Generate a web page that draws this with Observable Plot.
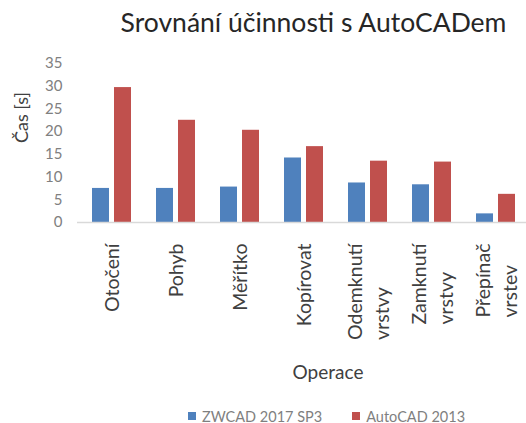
<!DOCTYPE html>
<html><head><meta charset="utf-8">
<script src="https://cdn.jsdelivr.net/npm/d3@7"></script>
<script src="https://cdn.jsdelivr.net/npm/@observablehq/plot@0.6"></script>
<style>
body{margin:0;background:#fff;font-family:Lato,sans-serif;}
#wrap{width:526px;height:423px;position:relative;overflow:hidden;background:#fff;}
#title{height:45px;line-height:44px;padding-left:101px;text-align:center;font-size:26.5px;color:#262626;white-space:nowrap;}
#chart svg{display:block;}
#legend{position:absolute;top:404px;left:188px;height:24px;display:flex;align-items:center;font-size:14.5px;color:#7f7f7f;white-space:nowrap;}
#legend .item{display:flex;align-items:center;margin-right:30px;}
#legend .sw{width:8px;height:8px;margin-right:6px;}
</style></head><body>
<div id="wrap">
  <div id="title">Srovnání účinnosti s AutoCADem</div>
  <div id="chart"></div>
  <div id="legend"></div>
</div>
<script>
const categories = ["Otočení", "Pohyb", "Měřítko", "Kopírovat", "Odemknutí vrstvy", "Zamknutí vrstvy", "Přepínač vrstev"];
const tickLabels = ["Otočení", "Pohyb", "Měřítko", "Kopírovat", "Odemknutí\nvrstvy", "Zamknutí\nvrstvy", "Přepínač\nvrstev"];
const seriesNames = ["ZWCAD 2017 SP3", "AutoCAD 2013"];
const zwcad = [7.5, 7.5, 7.8, 14.2, 8.7, 8.3, 1.9];
const autocad = [29.7, 22.5, 20.3, 16.7, 13.5, 13.3, 6.2];
const yTicks = [0, 5, 10, 15, 20, 25, 30, 35];
const colors = ["#4F81BD", "#C0504D"];

const table = categories.map((c, i) => ({cat: c, label: tickLabels[i], zwcad: zwcad[i], autocad: autocad[i]}));

const labelSize = 19.5;
const ctx = document.createElement("canvas").getContext("2d");
ctx.font = `${labelSize}px Lato`;
const maxLen = s => Math.max(...s.split("\n").map(l => ctx.measureText(l).width));

const labelMarks = table.map(d => Plot.text([d], {
  x: "cat", text: "label", frameAnchor: "bottom", rotate: -90,
  textAnchor: "start", lineAnchor: "middle", lineHeight: 1.4,
  dy: 21 + maxLen(d.label), fontSize: labelSize, fill: "#404040"
}));

const chart = Plot.plot({
  width: 526, height: 352,
  marginLeft: 77, marginRight: 0, marginTop: 18, marginBottom: 175,
  style: {fontFamily: "Lato, sans-serif", background: "#fff"},
  x: {type: "band", domain: categories, padding: 0, axis: null},
  y: {domain: [0, 35], axis: null},
  marks: [
    Plot.barY(table, {x: "cat", y: "zwcad", fill: colors[0], insetLeft: 14, insetRight: 33}),
    Plot.barY(table, {x: "cat", y: "autocad", fill: colors[1], insetLeft: 36, insetRight: 11}),
    Plot.ruleY([0], {stroke: "#d9d9d9", strokeWidth: 1.5}),
    Plot.axisY({ticks: yTicks, tickSize: 0, tickPadding: 15, fontSize: 15, color: "#808080", label: null}),
    ...labelMarks,
    Plot.text(["Operace"], {frameAnchor: "bottom", dy: 156, dx: 26, fontSize: 19, fill: "#404040"}),
    Plot.text(["Čas [s]"], {frameAnchor: "left", dx: -55, rotate: -90, fontSize: 18, fill: "#404040"})
  ]
});
document.getElementById("chart").appendChild(chart);

const legend = document.getElementById("legend");
seriesNames.forEach((n, i) => {
  const it = document.createElement("div"); it.className = "item";
  const sw = document.createElement("div"); sw.className = "sw"; sw.style.background = colors[i];
  const tx = document.createElement("span"); tx.textContent = n;
  it.appendChild(sw); it.appendChild(tx); legend.appendChild(it);
});
</script>
</body></html>
